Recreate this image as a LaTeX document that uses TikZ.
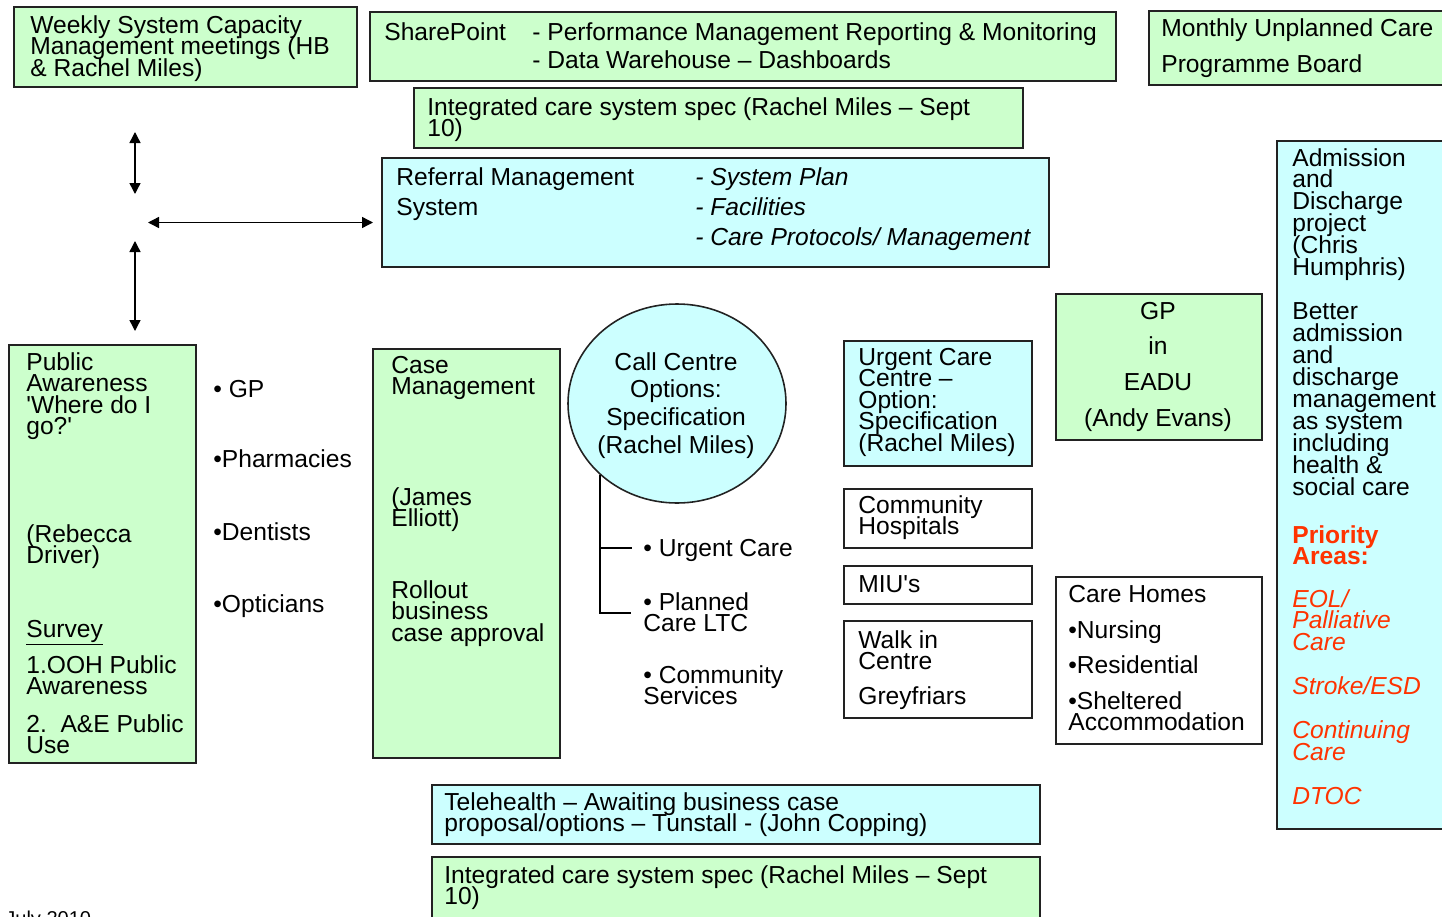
\documentclass[tikz,border=0pt]{standalone}
\usepackage{fontspec}
\setmainfont{Liberation Sans}
\usetikzlibrary{arrows.meta,shapes.geometric}
\definecolor{gfill}{HTML}{CCFFCC}
\definecolor{cfill}{HTML}{CCFFFF}
\definecolor{redt}{HTML}{FF3300}
\definecolor{edge}{HTML}{222222}
\newcommand{\dfont}{\fontsize{14pt}{12.3pt}\selectfont}
\newcommand{\afont}{\fontsize{14pt}{12.5pt}\selectfont}
\newcommand{\ml}[1]{{\let\\\cr\vtop{\lineskiplimit=-1000pt\halign{##\hfil\cr#1\crcr}}}}
\newcommand{\mlc}[1]{{\let\\\cr\vtop{\lineskiplimit=-1000pt\halign{\hfil##\hfil\cr#1\crcr}}}}
\begin{document}
\begin{tikzpicture}[x=0.02cm,y=-0.02cm,
  box/.style={draw=edge, line width=0.9pt, inner sep=0pt, outer sep=0pt, anchor=north west},
  sz/.style 2 args={minimum width=#1*0.02cm, minimum height=#2*0.02cm},
  gbox/.style={box, fill=gfill},
  cbox/.style={box, fill=cfill},
  wbox/.style={box, fill=white},
  txt/.style={anchor=base west, inner sep=0pt, font=\dfont},
  ctxt/.style={anchor=base, inner sep=0pt, font=\dfont},
  redtxt/.style={txt, text=redt, font=\afont},
  darrow/.style={{Triangle[length=0.22cm,width=0.22cm]}-{Triangle[length=0.22cm,width=0.22cm]}, line width=0.8pt},
  link/.style={line width=0.8pt}
]
\useasboundingbox (0,0) rectangle (1442,916);
\clip (0,0) rectangle (1442,916);

% ---------- boxes ----------
\node[gbox, sz={343}{80}] (weekly) at (14,7) {};
\node[gbox, sz={746}{69}] (share) at (370,12) {};
\node[gbox, sz={300}{74}] (monthly) at (1149,11) {};
\node[gbox, sz={609}{60}] (integA) at (414,88) {};
\node[cbox, sz={667}{109}] (referral) at (382,158) {};
\node[gbox, sz={187}{418}] (public) at (9,345) {};
\node[gbox, sz={187}{409}] (casem) at (373,349) {};
\node[draw=edge, line width=0.9pt, fill=cfill, ellipse, inner sep=0pt,
      minimum width=218*0.02cm, minimum height=199*0.02cm] (circ) at (677,403.5) {};
\node[cbox, sz={188}{125}] (ucc) at (844,341) {};
\node[wbox, sz={188}{59}] (commh) at (844,489) {};
\node[wbox, sz={188}{38}] (miu) at (844,566) {};
\node[wbox, sz={188}{97}] (walk) at (844,621) {};
\node[gbox, sz={206}{146}] (gp) at (1056,294) {};
\node[wbox, sz={206}{167}] (care) at (1056,577) {};
\node[cbox, sz={200}{688}] (adm) at (1277,141) {};
\node[cbox, sz={608}{59}] (tele) at (432,785) {};
\node[gbox, sz={608}{80}] (integB) at (432,857) {};

% ---------- texts ----------
\node[txt] (weeklyT) at (30,33) {\ml{Weekly System Capacity\\Management meetings (HB\\\& Rachel Miles)}};

\node[txt] (shareT) at (384,40) {SharePoint};
\node[txt] (shareA) at (532,40) {- Performance Management Reporting \& Monitoring};
\node[txt] (shareB) at (532,68) {- Data Warehouse – Dashboards};

\node[txt] (monthA) at (1161,36) {Monthly Unplanned Care};
\node[txt] (monthB) at (1161,72) {Programme Board};

\node[txt] (integAT) at (427,115) {\ml{Integrated care system spec (Rachel Miles – Sept\\10)}};

\node[txt] (refA) at (396,185) {Referral Management};
\node[txt] (refB) at (396,215) {System};
\node[txt, font=\dfont\itshape] (refC) at (695,185) {- System Plan};
\node[txt, font=\dfont\itshape] (refD) at (695,215) {- Facilities};
\node[txt, font=\dfont\itshape] (refE) at (695,245) {- Care Protocols/ Management};

\node[txt] (pubA) at (26,370) {\ml{Public\\Awareness\\\textquotesingle Where do I\\go?\textquotesingle}};
\node[txt] (pubB) at (26,542) {\ml{(Rebecca\\Driver)}};
\node[txt] (pubC) at (26,637) {\underline{Survey}};
\node[txt] (pubD) at (26,673) {\ml{1.OOH Public\\Awareness}};
\node[txt] (pubE) at (26,732) {\ml{2.\ \ A\&E Public\\Use}};

\node[txt] (bGP) at (213,397) {• GP};
\node[txt] (bPh) at (213,467) {•Pharmacies};
\node[txt] (bDe) at (213,540) {•Dentists};
\node[txt] (bOp) at (213,612) {•Opticians};

\node[txt] (caseA) at (391,373) {\ml{Case\\Management}};
\node[txt] (caseB) at (391,505) {\ml{(James\\Elliott)}};
\node[txt] (caseC) at (391,598) {\ml{Rollout\\business\\case approval}};

\node[ctxt, font=\fontsize{14pt}{15.8pt}\selectfont] (circT) at (676,370) {\mlc{Call Centre\\Options:\\Specification\\(Rachel Miles)}};

\node[txt] (ccA) at (643,556) {• Urgent Care};
\node[txt] (ccB) at (643,610) {\ml{• Planned\\Care LTC}};
\node[txt] (ccC) at (643,683) {\ml{• Community\\Services}};

\node[txt] (uccT) at (858,365) {\ml{Urgent Care\\Centre –\\Option:\\Specification\\(Rachel Miles)}};
\node[txt] (commhT) at (858,513) {\ml{Community\\Hospitals}};
\node[txt] (miuT) at (858,592) {MIU\textquotesingle s};
\node[txt] (walkA) at (858,648) {\ml{Walk in\\Centre}};
\node[txt] (walkB) at (858,704) {Greyfriars};

\node[ctxt, font=\fontsize{14pt}{20.4pt}\selectfont] (gpT) at (1158,319) {\mlc{GP\\in\\EADU\\(Andy Evans)}};

\node[txt] (careA) at (1068,602) {Care Homes};
\node[txt] (careB) at (1068,638) {•Nursing};
\node[txt] (careC) at (1068,673) {•Residential};
\node[txt] (careD) at (1068,709) {\ml{•Sheltered\\Accommodation}};

\node[txt, font=\afont] (admA) at (1292,166) {\ml{Admission\\and\\Discharge\\project\\(Chris\\Humphris)\\\mbox{}\\Better\\admission\\and\\discharge\\management\\as system\\including\\health \&\\social care}};
\node[redtxt] (admB) at (1292,543) {\ml{\textbf{Priority}\\\textbf{Areas:}}};
\node[redtxt] (admC) at (1292,607) {\ml{\textit{EOL/}\\\textit{Palliative}\\\textit{Care}\\\mbox{}\\\textit{Stroke/ESD}\\\mbox{}\\\textit{Continuing}\\\textit{Care}\\\mbox{}\\\textit{DTOC}}};

\node[txt] (teleT) at (444,810) {\ml{Telehealth – Awaiting business case\\proposal/options – Tunstall - (John Copping)}};
\node[txt] (integBT) at (444,883) {\ml{Integrated care system spec (Rachel Miles – Sept\\10)}};

\node[txt, font=\fontsize{11.4pt}{12pt}\selectfont] (date) at (5,925) {July 2010};

% ---------- arrows ----------
\coordinate (v1a) at (135,132);
\coordinate (v1b) at (135,194);
\coordinate (h1a) at (148,222.5);
\coordinate (h1b) at (373,222.5);
\coordinate (v2a) at (135,241);
\coordinate (v2b) at (135,331);
\draw[darrow] (v1a) -- (v1b);
\draw[darrow] (h1a) -- (h1b);
\draw[darrow] (v2a) -- (v2b);

% ---------- bracket from call centre ----------
\coordinate (b1) at (632,548);
\coordinate (b2) at (631,613);
\draw[link] (circ.-137.5) |- (b2);
\draw[link] (circ.-137.5 |- b1) -- (b1);
\end{tikzpicture}
\end{document}
